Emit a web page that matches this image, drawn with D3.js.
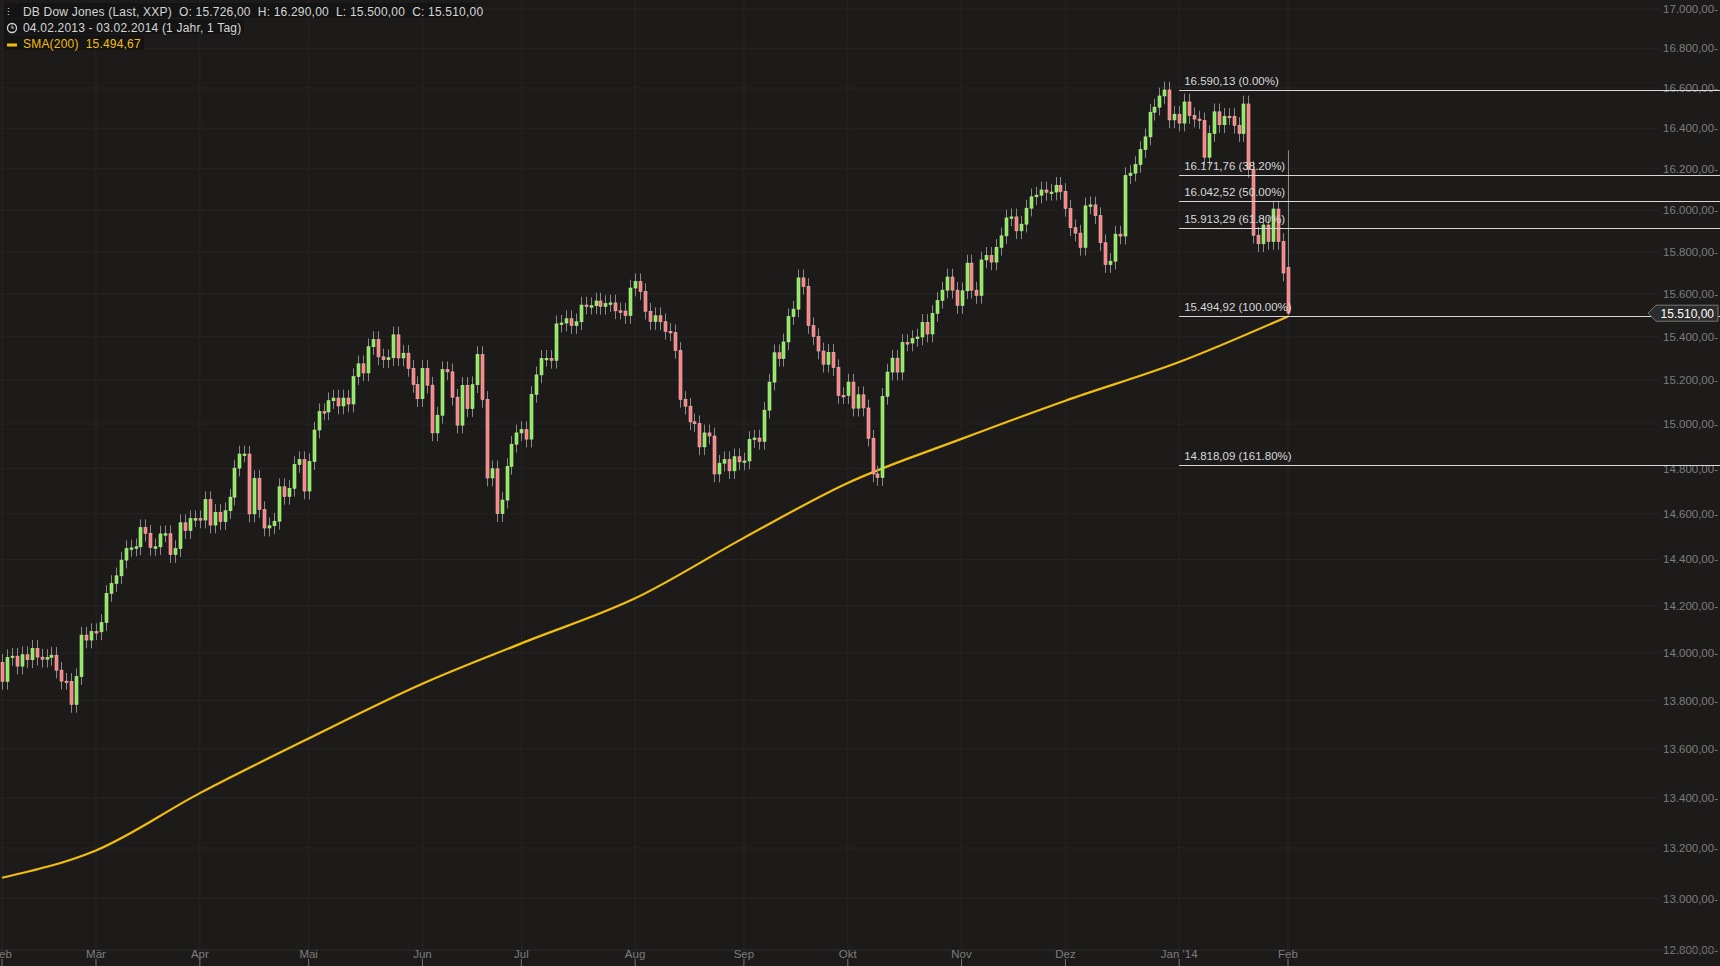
<!DOCTYPE html>
<html>
<head>
<meta charset="utf-8">
<script src="https://cdn.jsdelivr.net/npm/d3@7"></script>
<style>
  body { margin: 0; background: #1c1b1a; }
  svg { display: block; font-family: "Liberation Sans", Arial, sans-serif; }
</style>
</head>
<body>
<div class="vis_container"></div>
<script>
// declaring constants
var CANVAS_WIDTH = 1720;
var CANVAS_HEIGHT = 966;

// daily closes, one array per month (Feb 2013 .. Feb 2014)
var closesFeb13 = [13880,13980,13986,13944,13992,13971,14019,13982,13973,13981,13990,13927,13881,13880,13784,13900,14075,14054,14090];
var closesMar13 = [14089,14128,14253,14296,14329,14397,14447,14450,14455,14539,14514,14452,14455,14511,14512,14421,14447,14560,14526,14578,14578];
var closesApr13 = [14572,14662,14550,14606,14565,14613,14673,14802,14865,14865,14599,14756,14618,14537,14547,14567,14719,14676,14712,14818,14840,14700];
var closesMai13 = [14831,14973,15056,15055,15106,15118,15082,15118,15091,15216,15275,15233,15354,15387,15307,15294,15303,15409,15302,15324,15254,15180,15115];
var closesJun13 = [15254,15177,14960,15040,15248,15238,15122,14995,15176,15070,15179,15318,15112,14758,14799,14600,14660,14810,14909,14960];
var closesJul13 = [14975,14932,15135,15224,15300,15300,15291,15460,15464,15484,15452,15470,15548,15543,15545,15567,15542,15555,15558,15521,15520,15499,15628];
var closesAug13 = [15658,15612,15519,15471,15498,15470,15425,15419,15337,15112,15081,15010,15002,14897,14960,14946,14776,14824,14840,14790,14853,14830];
var closesSep13 = [14834,14930,14937,14922,15063,15191,15326,15300,15376,15494,15529,15676,15636,15452,15401,15334,15273,15328,15258,15130,15129];
var closesOkt13 = [15191,15072,15133,15073,14936,14776,14760,15126,15237,15301,15237,15373,15371,15392,15399,15467,15413,15509,15570,15618,15680,15618,15546];
var closesNov13 = [15615,15746,15618,15593,15761,15783,15751,15821,15876,15962,15967,15900,15932,16009,16064,16072,16097,16086,16087,16120,16090];
var closesDez13 = [16008,15915,15889,15821,16020,16025,15973,15843,15739,15755,15884,15875,16167,16179,16221,16294,16357,16479,16504,16560,16590,16441];
var closesJan14 = [16469,16425,16530,16462,16445,16437,16257,16374,16481,16417,16459,16458,16414,16373,16520,16197,15879,15838,15928,15849,16005,15849,15699];
var closesFeb14 = [15510];

var firstOpen = 13960;
var lastHigh = 16290, lastLow = 15500, lastOpen = 15726;

// SMA(200) read at month starts
var smaDates = ["2013-02-04","2013-03-01","2013-04-01","2013-05-01","2013-06-03","2013-07-01","2013-08-01","2013-09-02","2013-10-01","2013-11-01","2013-12-02","2014-01-02","2014-02-03"];
var smaValues = [13082,13190,13420,13643,13870,14040,14232,14494,14736,14933,15106,15283,15495];

// Fibonacci retracement levels
var fibValues = [16590.13, 16171.76, 16042.52, 15913.29, 15494.92, 14818.09];
var fibLabels = ["0.00%", "38.20%", "50.00%", "61.80%", "100.00%", "161.80%"];

var yTicks = [12800,13000,13200,13400,13600,13800,14000,14200,14400,14600,14800,15000,15200,15400,15600,15800,16000,16200,16400,16600,16800,17000];
var monthTicks = ["2013-02-01","2013-03-01","2013-04-01","2013-05-01","2013-06-03","2013-07-01","2013-08-01","2013-09-02","2013-10-01","2013-11-01","2013-12-02","2014-01-02","2014-02-03"];
var monthLabels = ["Feb","Mär","Apr","Mai","Jun","Jul","Aug","Sep","Okt","Nov","Dez","Jan '14","Feb"];

var de = d3.formatLocale({ decimal: ",", thousands: ".", grouping: [3], currency: ["", "€"] });
var fmt = de.format(",.2f");
var parse = d3.timeParse("%Y-%m-%d");

function buildCandles() {
  var closes = [].concat(closesFeb13, closesMar13, closesApr13, closesMai13, closesJun13, closesJul13,
    closesAug13, closesSep13, closesOkt13, closesNov13, closesDez13, closesJan14, closesFeb14);
  var days = d3.timeDay.range(parse("2013-02-04"), parse("2014-02-04"))
    .filter(function(d) { return d.getDay() !== 0 && d.getDay() !== 6; });
  var out = [];
  var prev = firstOpen;
  closes.forEach(function(c, i) {
    var o = prev;
    var hi = Math.max(o, c), lo = Math.min(o, c);
    out.push({ date: days[i], o: o, c: c, h: hi * 1.0025, l: lo * 0.9975 });
    prev = c;
  });
  var last = out[out.length - 1];
  last.o = lastOpen; last.h = lastHigh; last.l = lastLow;
  return out;
}

function createSVG() {
  var candles = buildCandles();

  var svg = d3.select(".vis_container").append("svg")
    .attr("width", CANVAS_WIDTH)
    .attr("height", CANVAS_HEIGHT);

  svg.append("rect").attr("width", CANVAS_WIDTH).attr("height", CANVAS_HEIGHT).attr("fill", "#1c1b1a");

  var y = d3.scaleLog().domain([12800, 17000]).range([950, 9]);
  var x = d3.scaleTime()
    .domain([candles[0].date, candles[candles.length - 1].date])
    .range([2, 1288]);
  // trading-day positions (weekdays only, evenly spaced)
  var idx = d3.scaleLinear().domain([0, candles.length - 1]).range([2, 1288]);
  var dayPos = new Map(candles.map(function(d, i) { return [+d.date, idx(i)]; }));
  function xPos(d) {
    var k = +d;
    if (dayPos.has(k)) return dayPos.get(k);
    var t = new Date(d);
    while (!dayPos.has(+t) && t < candles[candles.length - 1].date) t = d3.timeDay.offset(t, 1);
    return dayPos.has(+t) ? dayPos.get(+t) : x(d);
  }

  var g = svg.append("g");

  // grid
  g.selectAll("line.hgrid").data(yTicks).enter().append("line")
    .attr("x1", 0).attr("x2", 1660)
    .attr("y1", function(d) { return y(d); }).attr("y2", function(d) { return y(d); })
    .attr("stroke", "#262524").attr("stroke-width", 1);
  g.selectAll("line.vgrid").data(monthTicks).enter().append("line")
    .attr("x1", function(d) { return xPos(parse(d)); }).attr("x2", function(d) { return xPos(parse(d)); })
    .attr("y1", 0).attr("y2", 950)
    .attr("stroke", "#262524").attr("stroke-width", 1);

  // y axis labels
  g.selectAll("text.ylab").data(yTicks).enter().append("text")
    .attr("x", 1718).attr("y", function(d) { return y(d) + 4; })
    .attr("text-anchor", "end").attr("fill", "#7d7d7d").attr("font-size", 11.5)
    .text(function(d) { return fmt(d) + "-"; });

  // x axis
  g.append("line").attr("x1", 0).attr("x2", 1720).attr("y1", 950).attr("y2", 950).attr("stroke", "#2a2a2a");
  monthTicks.forEach(function(m, i) {
    var px = xPos(parse(m));
    g.append("line").attr("x1", px).attr("x2", px).attr("y1", 959).attr("y2", 966).attr("stroke", "#777");
    g.append("text").attr("x", px).attr("y", 958).attr("text-anchor", "middle")
      .attr("fill", "#7d7d7d").attr("font-size", 11.5).text(monthLabels[i]);
  });

  // SMA line
  var line = d3.line()
    .x(function(d) { return xPos(parse(d[0])); })
    .y(function(d) { return y(d[1]); })
    .curve(d3.curveMonotoneX);
  g.append("path").datum(d3.zip(smaDates, smaValues))
    .attr("d", line).attr("fill", "none").attr("stroke", "#f2bd0c").attr("stroke-width", 2.2);

  // candles
  var cg = g.append("g");
  var bw = 3;
  candles.forEach(function(d) {
    var px = Math.round(xPos(d.date)) + 0.5;
    var up = d.c >= d.o;
    cg.append("line").attr("x1", px).attr("x2", px).attr("y1", y(d.h)).attr("y2", y(d.l))
      .attr("stroke", "#8a8a8a").attr("stroke-width", 1);
    var top = y(Math.max(d.o, d.c)), bot = y(Math.min(d.o, d.c));
    cg.append("rect").attr("x", px - bw / 2).attr("y", top)
      .attr("width", bw).attr("height", Math.max(1.5, bot - top))
      .attr("fill", up ? "#8ee860" : "#f48585")
      .attr("stroke", up ? "#b6f58f" : "#ffb0b0").attr("stroke-width", 0.6);
  });

  // Fibonacci lines
  var fx = xPos(parse("2014-01-02"));
  fibValues.forEach(function(v, i) {
    g.append("line").attr("x1", fx).attr("x2", 1720).attr("y1", Math.round(y(v)) + 0.5).attr("y2", Math.round(y(v)) + 0.5)
      .attr("stroke", "#d8d8d8").attr("stroke-width", 1);
    g.append("text").attr("x", fx + 5).attr("y", y(v) - 5)
      .attr("fill", "#d8d8d8").attr("font-size", 11.5).text(fmt(v) + " (" + fibLabels[i] + ")");
  });

  // last price marker
  var ly = y(closesFeb14[0]);
  g.append("path")
    .attr("d", "M1648," + ly + " L1656," + (ly - 8) + " L1718," + (ly - 8) + " L1718," + (ly + 8) + " L1656," + (ly + 8) + " Z")
    .attr("fill", "#2c2c2c").attr("stroke", "#777");
  g.append("text").attr("x", 1714).attr("y", ly + 4.5).attr("text-anchor", "end")
    .attr("fill", "#ffffff").attr("font-size", 12).text(fmt(closesFeb14[0]));

  // legend
  var leg = g.append("g");
  leg.append("rect").attr("x", 4).attr("y", 3).attr("width", 470).attr("height", 15).attr("fill", "#141414");
  leg.append("rect").attr("x", 4).attr("y", 19).attr("width", 240).attr("height", 15).attr("fill", "#141414");
  leg.append("rect").attr("x", 4).attr("y", 35).attr("width", 140).attr("height", 15).attr("fill", "#141414");
  leg.append("text").attr("x", 7).attr("y", 16).attr("fill", "#cfcfcf").attr("font-size", 11).text("⫶");
  leg.append("text").attr("x", 23).attr("y", 16).attr("fill", "#d6d6d6").attr("font-size", 12).attr("letter-spacing", 0.2)
    .attr("xml:space", "preserve")
    .text("DB Dow Jones (Last, XXP)  O: 15.726,00  H: 16.290,00  L: 15.500,00  C: 15.510,00");
  leg.append("circle").attr("cx", 12).attr("cy", 28).attr("r", 4.5).attr("fill", "none").attr("stroke", "#d6d6d6").attr("stroke-width", 1.3);
  leg.append("path").attr("d", "M12,25.5 V28 H14").attr("fill", "none").attr("stroke", "#d6d6d6").attr("stroke-width", 1.1);
  leg.append("text").attr("x", 23).attr("y", 32).attr("fill", "#d6d6d6").attr("font-size", 12).attr("letter-spacing", 0.2)
    .text("04.02.2013 - 03.02.2014 (1 Jahr, 1 Tag)");
  leg.append("rect").attr("x", 7).attr("y", 43.5).attr("width", 10).attr("height", 3).attr("fill", "#f2bd0c");
  leg.append("text").attr("x", 23).attr("y", 48).attr("fill", "#f2bd0c").attr("font-size", 12).attr("letter-spacing", 0.2)
    .attr("xml:space", "preserve")
    .text("SMA(200)  15.494,67");
}

createSVG();
</script>
</body>
</html>
